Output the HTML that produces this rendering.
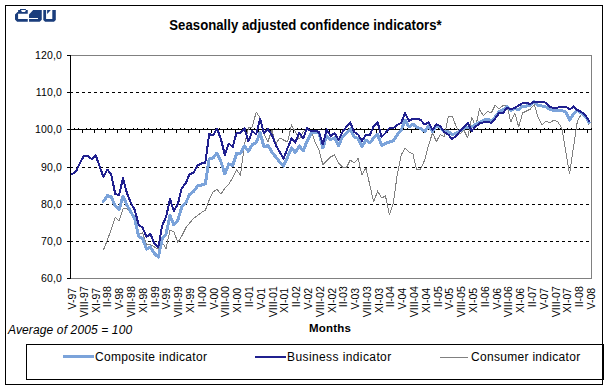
<!DOCTYPE html>
<html><head><meta charset="utf-8"><style>
html,body{margin:0;padding:0;background:#fff;}
svg{display:block;}
text{font-family:"Liberation Sans",sans-serif;}
</style></head><body>
<svg width="609" height="390" viewBox="0 0 609 390">
<rect x="0" y="0" width="609" height="390" fill="#fff"/>
<rect x="5.5" y="5.5" width="597" height="379" fill="none" stroke="#000" stroke-width="1"/>
<g fill="#1a3d7c">
<path d="M20,8.9 L25.9,8.9 L25.9,9.9 L27.75,9.9 L27.75,13.8 L18.1,13.8 L18.1,18.9 L27.75,18.9 L27.75,21.75 L17.1,21.75 L15,19.6 L15,14.5 L17.5,11.9 L18.1,11.9 L18.1,9.9 L20,9.9 Z M21.2,9.9 L21.2,10.9 L22.2,11.9 L24.7,11.9 L25.7,10.9 L25.7,9.9 Z" fill-rule="evenodd"/>
<path d="M33.15,9.9 L41.75,9.9 L41.75,19.7 L39.7,21.75 L29.05,21.75 L29.05,18.9 L38,18.9 L38,18.05 L29.05,18.05 L29.05,14.6 Z"/>
<path d="M43.3,9.9 L46.07,9.9 L46.07,18.9 L52.3,18.9 L52.3,9.9 L55.8,9.9 L55.8,20 L54,21.75 L45.1,21.75 L43.3,20 Z"/>
<path d="M47.1,9.9 L50.9,9.9 L47.1,14 Z"/>
</g>
<text transform="translate(169.3,30) scale(0.94,1)" x="0" y="0" font-size="14" letter-spacing="0.03" font-weight="bold">Seasonally adjusted confidence indicators*</text>
<g shape-rendering="crispEdges">
<line x1="71" y1="55.5" x2="591" y2="55.5" stroke="#808080"/>
<line x1="591.5" y1="55" x2="591.5" y2="279" stroke="#808080"/>
<line x1="71" y1="278.5" x2="591" y2="278.5" stroke="#808080"/>
<line x1="70" y1="92.5" x2="589" y2="92.5" stroke="#000" stroke-width="1" stroke-dasharray="3 3"/><line x1="70" y1="167.5" x2="589" y2="167.5" stroke="#000" stroke-width="1" stroke-dasharray="3 3"/><line x1="70" y1="204.5" x2="589" y2="204.5" stroke="#000" stroke-width="1" stroke-dasharray="3 3"/><line x1="70" y1="241.5" x2="589" y2="241.5" stroke="#000" stroke-width="1" stroke-dasharray="3 3"/>
</g>
<g shape-rendering="crispEdges" fill="#000">
<rect x="70" y="55" width="1" height="224"/>
<rect x="67" y="129" width="525" height="1"/>
<rect x="74" y="128" width="1" height="2"/><rect x="78" y="128" width="1" height="2"/><rect x="82" y="129" width="1" height="4"/><rect x="86" y="128" width="1" height="2"/><rect x="90" y="128" width="1" height="2"/><rect x="94" y="129" width="1" height="4"/><rect x="97" y="128" width="1" height="2"/><rect x="101" y="128" width="1" height="2"/><rect x="105" y="129" width="1" height="4"/><rect x="109" y="128" width="1" height="2"/><rect x="113" y="128" width="1" height="2"/><rect x="117" y="129" width="1" height="4"/><rect x="121" y="128" width="1" height="2"/><rect x="125" y="128" width="1" height="2"/><rect x="129" y="129" width="1" height="4"/><rect x="133" y="128" width="1" height="2"/><rect x="137" y="128" width="1" height="2"/><rect x="141" y="129" width="1" height="4"/><rect x="144" y="128" width="1" height="2"/><rect x="148" y="128" width="1" height="2"/><rect x="152" y="129" width="1" height="4"/><rect x="156" y="128" width="1" height="2"/><rect x="160" y="128" width="1" height="2"/><rect x="164" y="129" width="1" height="4"/><rect x="168" y="128" width="1" height="2"/><rect x="172" y="128" width="1" height="2"/><rect x="176" y="129" width="1" height="4"/><rect x="180" y="128" width="1" height="2"/><rect x="184" y="128" width="1" height="2"/><rect x="188" y="129" width="1" height="4"/><rect x="191" y="128" width="1" height="2"/><rect x="195" y="128" width="1" height="2"/><rect x="199" y="129" width="1" height="4"/><rect x="203" y="128" width="1" height="2"/><rect x="207" y="128" width="1" height="2"/><rect x="211" y="129" width="1" height="4"/><rect x="215" y="128" width="1" height="2"/><rect x="219" y="128" width="1" height="2"/><rect x="223" y="129" width="1" height="4"/><rect x="227" y="128" width="1" height="2"/><rect x="231" y="128" width="1" height="2"/><rect x="235" y="129" width="1" height="4"/><rect x="238" y="128" width="1" height="2"/><rect x="242" y="128" width="1" height="2"/><rect x="246" y="129" width="1" height="4"/><rect x="250" y="128" width="1" height="2"/><rect x="254" y="128" width="1" height="2"/><rect x="258" y="129" width="1" height="4"/><rect x="262" y="128" width="1" height="2"/><rect x="266" y="128" width="1" height="2"/><rect x="270" y="129" width="1" height="4"/><rect x="274" y="128" width="1" height="2"/><rect x="278" y="128" width="1" height="2"/><rect x="282" y="129" width="1" height="4"/><rect x="285" y="128" width="1" height="2"/><rect x="289" y="128" width="1" height="2"/><rect x="293" y="129" width="1" height="4"/><rect x="297" y="128" width="1" height="2"/><rect x="301" y="128" width="1" height="2"/><rect x="305" y="129" width="1" height="4"/><rect x="309" y="128" width="1" height="2"/><rect x="313" y="128" width="1" height="2"/><rect x="317" y="129" width="1" height="4"/><rect x="321" y="128" width="1" height="2"/><rect x="325" y="128" width="1" height="2"/><rect x="329" y="129" width="1" height="4"/><rect x="332" y="128" width="1" height="2"/><rect x="336" y="128" width="1" height="2"/><rect x="340" y="129" width="1" height="4"/><rect x="344" y="128" width="1" height="2"/><rect x="348" y="128" width="1" height="2"/><rect x="352" y="129" width="1" height="4"/><rect x="356" y="128" width="1" height="2"/><rect x="360" y="128" width="1" height="2"/><rect x="364" y="129" width="1" height="4"/><rect x="368" y="128" width="1" height="2"/><rect x="372" y="128" width="1" height="2"/><rect x="376" y="129" width="1" height="4"/><rect x="379" y="128" width="1" height="2"/><rect x="383" y="128" width="1" height="2"/><rect x="387" y="129" width="1" height="4"/><rect x="391" y="128" width="1" height="2"/><rect x="395" y="128" width="1" height="2"/><rect x="399" y="129" width="1" height="4"/><rect x="403" y="128" width="1" height="2"/><rect x="407" y="128" width="1" height="2"/><rect x="411" y="129" width="1" height="4"/><rect x="415" y="128" width="1" height="2"/><rect x="419" y="128" width="1" height="2"/><rect x="423" y="129" width="1" height="4"/><rect x="426" y="128" width="1" height="2"/><rect x="430" y="128" width="1" height="2"/><rect x="434" y="129" width="1" height="4"/><rect x="438" y="128" width="1" height="2"/><rect x="442" y="128" width="1" height="2"/><rect x="446" y="129" width="1" height="4"/><rect x="450" y="128" width="1" height="2"/><rect x="454" y="128" width="1" height="2"/><rect x="458" y="129" width="1" height="4"/><rect x="462" y="128" width="1" height="2"/><rect x="466" y="128" width="1" height="2"/><rect x="470" y="129" width="1" height="4"/><rect x="473" y="128" width="1" height="2"/><rect x="477" y="128" width="1" height="2"/><rect x="481" y="129" width="1" height="4"/><rect x="485" y="128" width="1" height="2"/><rect x="489" y="128" width="1" height="2"/><rect x="493" y="129" width="1" height="4"/><rect x="497" y="128" width="1" height="2"/><rect x="501" y="128" width="1" height="2"/><rect x="505" y="129" width="1" height="4"/><rect x="509" y="128" width="1" height="2"/><rect x="513" y="128" width="1" height="2"/><rect x="517" y="129" width="1" height="4"/><rect x="520" y="128" width="1" height="2"/><rect x="524" y="128" width="1" height="2"/><rect x="528" y="129" width="1" height="4"/><rect x="532" y="128" width="1" height="2"/><rect x="536" y="128" width="1" height="2"/><rect x="540" y="129" width="1" height="4"/><rect x="544" y="128" width="1" height="2"/><rect x="548" y="128" width="1" height="2"/><rect x="552" y="129" width="1" height="4"/><rect x="556" y="128" width="1" height="2"/><rect x="560" y="128" width="1" height="2"/><rect x="564" y="129" width="1" height="4"/><rect x="567" y="128" width="1" height="2"/><rect x="571" y="128" width="1" height="2"/><rect x="575" y="129" width="1" height="4"/><rect x="579" y="128" width="1" height="2"/><rect x="583" y="128" width="1" height="2"/><rect x="587" y="129" width="1" height="4"/><rect x="591" y="128" width="1" height="2"/>
<rect x="67" y="55" width="4" height="1"/><rect x="67" y="92" width="4" height="1"/><rect x="67" y="129" width="4" height="1"/><rect x="67" y="167" width="4" height="1"/><rect x="67" y="204" width="4" height="1"/><rect x="67" y="241" width="4" height="1"/><rect x="67" y="278" width="4" height="1"/>
</g>
<g font-size="10.5" letter-spacing="0.15" fill="#000">
<text x="62" y="59" text-anchor="end">120,0</text>
<text x="62" y="96" text-anchor="end">110,0</text>
<text x="62" y="133" text-anchor="end">100,0</text>
<text x="62" y="171" text-anchor="end">90,0</text>
<text x="62" y="208" text-anchor="end">80,0</text>
<text x="62" y="245" text-anchor="end">70,0</text>
<text x="62" y="282" text-anchor="end">60,0</text>

</g>
<g font-size="10.5" fill="#000">
<text transform="translate(76.06,287.8) rotate(-90)" text-anchor="end">V-97</text>
<text transform="translate(87.85,286.2) rotate(-90)" text-anchor="end">VIII-97</text>
<text transform="translate(99.65,287.8) rotate(-90)" text-anchor="end">XI-97</text>
<text transform="translate(111.44,286.2) rotate(-90)" text-anchor="end">II-98</text>
<text transform="translate(123.23,287.8) rotate(-90)" text-anchor="end">V-98</text>
<text transform="translate(135.03,286.2) rotate(-90)" text-anchor="end">VIII-98</text>
<text transform="translate(146.82,287.8) rotate(-90)" text-anchor="end">XI-98</text>
<text transform="translate(158.61,286.2) rotate(-90)" text-anchor="end">II-99</text>
<text transform="translate(170.40,287.8) rotate(-90)" text-anchor="end">V-99</text>
<text transform="translate(182.20,286.2) rotate(-90)" text-anchor="end">VIII-99</text>
<text transform="translate(193.99,287.8) rotate(-90)" text-anchor="end">XI-99</text>
<text transform="translate(205.78,286.2) rotate(-90)" text-anchor="end">II-00</text>
<text transform="translate(217.58,287.8) rotate(-90)" text-anchor="end">V-00</text>
<text transform="translate(229.37,286.2) rotate(-90)" text-anchor="end">VIII-00</text>
<text transform="translate(241.16,287.8) rotate(-90)" text-anchor="end">XI-00</text>
<text transform="translate(252.96,286.2) rotate(-90)" text-anchor="end">II-01</text>
<text transform="translate(264.75,287.8) rotate(-90)" text-anchor="end">V-01</text>
<text transform="translate(276.54,286.2) rotate(-90)" text-anchor="end">VIII-01</text>
<text transform="translate(288.33,287.8) rotate(-90)" text-anchor="end">XI-01</text>
<text transform="translate(300.13,286.2) rotate(-90)" text-anchor="end">II-02</text>
<text transform="translate(311.92,287.8) rotate(-90)" text-anchor="end">V-02</text>
<text transform="translate(323.71,286.2) rotate(-90)" text-anchor="end">VIII-02</text>
<text transform="translate(335.51,287.8) rotate(-90)" text-anchor="end">XI-02</text>
<text transform="translate(347.30,286.2) rotate(-90)" text-anchor="end">II-03</text>
<text transform="translate(359.09,287.8) rotate(-90)" text-anchor="end">V-03</text>
<text transform="translate(370.88,286.2) rotate(-90)" text-anchor="end">VIII-03</text>
<text transform="translate(382.68,287.8) rotate(-90)" text-anchor="end">XI-03</text>
<text transform="translate(394.47,286.2) rotate(-90)" text-anchor="end">II-04</text>
<text transform="translate(406.26,287.8) rotate(-90)" text-anchor="end">V-04</text>
<text transform="translate(418.06,286.2) rotate(-90)" text-anchor="end">VIII-04</text>
<text transform="translate(429.85,287.8) rotate(-90)" text-anchor="end">XI-04</text>
<text transform="translate(441.64,286.2) rotate(-90)" text-anchor="end">II-05</text>
<text transform="translate(453.44,287.8) rotate(-90)" text-anchor="end">V-05</text>
<text transform="translate(465.23,286.2) rotate(-90)" text-anchor="end">VIII-05</text>
<text transform="translate(477.02,287.8) rotate(-90)" text-anchor="end">XI-05</text>
<text transform="translate(488.81,286.2) rotate(-90)" text-anchor="end">II-06</text>
<text transform="translate(500.61,287.8) rotate(-90)" text-anchor="end">V-06</text>
<text transform="translate(512.40,286.2) rotate(-90)" text-anchor="end">VIII-06</text>
<text transform="translate(524.19,287.8) rotate(-90)" text-anchor="end">XI-06</text>
<text transform="translate(535.99,286.2) rotate(-90)" text-anchor="end">II-07</text>
<text transform="translate(547.78,287.8) rotate(-90)" text-anchor="end">V-07</text>
<text transform="translate(559.57,286.2) rotate(-90)" text-anchor="end">VIII-07</text>
<text transform="translate(571.37,287.8) rotate(-90)" text-anchor="end">XI-07</text>
<text transform="translate(583.16,286.2) rotate(-90)" text-anchor="end">II-08</text>
<text transform="translate(594.95,287.8) rotate(-90)" text-anchor="end">V-08</text>

</g>
<g fill="none" stroke-linejoin="round" stroke-linecap="round" shape-rendering="crispEdges">
<path d="M103.4,250.0 L107.4,240.0 L111.3,229.0 L115.2,217.0 L119.1,221.0 L123.0,209.0 L126.9,208.0 L130.9,213.0 L134.8,221.0 L138.7,235.0 L142.6,232.5 L146.5,245.0 L150.4,244.5 L154.4,247.0 L158.3,249.0 L162.2,242.5 L166.1,248.5 L170.0,230.0 L173.9,232.0 L177.9,242.5 L181.8,236.0 L185.7,228.0 L189.6,223.0 L193.5,218.5 L197.5,215.5 L201.4,212.5 L205.3,210.5 L209.2,200.0 L213.1,192.0 L217.0,189.5 L221.0,194.0 L224.9,188.0 L228.8,184.0 L232.7,178.0 L236.6,170.0 L240.5,175.0 L244.5,144.0 L248.4,128.0 L252.3,127.0 L256.2,112.0 L260.1,118.0 L264.0,134.0 L268.0,141.5 L271.9,130.0 L275.8,144.0 L279.7,138.0 L283.6,140.0 L287.6,142.0 L291.5,125.0 L295.4,132.0 L299.3,139.0 L303.2,131.5 L307.1,128.5 L311.1,131.0 L315.0,142.0 L318.9,150.0 L322.8,164.5 L326.7,161.0 L330.6,157.0 L334.6,155.0 L338.5,163.0 L342.4,167.0 L346.3,168.0 L350.2,160.0 L354.1,163.0 L358.1,158.5 L362.0,175.0 L365.9,168.0 L369.8,185.0 L373.7,202.0 L377.6,191.0 L381.6,198.0 L385.5,196.0 L389.4,215.0 L393.3,203.0 L397.2,175.0 L401.2,155.0 L405.1,148.0 L409.0,152.0 L412.9,154.0 L416.8,170.0 L420.7,169.0 L424.7,160.0 L428.6,145.0 L432.5,133.0 L436.4,141.5 L440.3,134.5 L444.2,137.0 L448.2,117.0 L452.1,116.0 L456.0,126.0 L459.9,134.0 L463.8,130.0 L467.7,138.0 L471.7,117.0 L475.6,127.0 L479.5,109.0 L483.4,116.0 L487.3,111.5 L491.3,113.0 L495.2,105.0 L499.1,109.0 L503.0,105.5 L506.9,105.0 L510.8,122.0 L514.8,113.0 L518.7,127.0 L522.6,113.0 L526.5,111.0 L530.4,109.0 L534.3,104.5 L538.3,118.0 L542.2,125.0 L546.1,121.0 L550.0,123.0 L553.9,120.0 L557.8,122.0 L561.8,128.0 L565.7,151.0 L569.6,174.0 L573.5,147.0 L577.4,121.0 L581.3,114.5 L585.3,117.0 L589.2,125.0" stroke="#808080" stroke-width="1"/>
<path d="M103.4,201.5 L107.4,195.5 L111.3,197.0 L115.2,206.0 L119.1,209.5 L123.0,196.0 L126.9,205.0 L130.9,212.0 L134.8,219.0 L138.7,236.5 L142.6,238.5 L146.5,249.0 L150.4,247.0 L154.4,253.5 L158.3,257.0 L162.2,239.0 L166.1,234.0 L170.0,215.5 L173.9,225.0 L177.9,220.0 L181.8,207.0 L185.7,203.0 L189.6,194.5 L193.5,191.5 L197.5,186.0 L201.4,185.0 L205.3,184.0 L209.2,159.0 L213.1,158.0 L217.0,153.0 L221.0,162.0 L224.9,174.0 L228.8,164.0 L232.7,165.5 L236.6,153.5 L240.5,153.0 L244.5,146.0 L248.4,151.5 L252.3,144.5 L256.2,142.5 L260.1,132.5 L264.0,147.0 L268.0,145.5 L271.9,152.0 L275.8,157.0 L279.7,162.0 L283.6,166.0 L287.6,157.0 L291.5,148.0 L295.4,152.5 L299.3,146.0 L303.2,151.0 L307.1,141.0 L311.1,133.0 L315.0,132.5 L318.9,133.0 L322.8,148.0 L326.7,136.0 L330.6,139.5 L334.6,138.0 L338.5,145.5 L342.4,137.0 L346.3,133.0 L350.2,129.0 L354.1,137.0 L358.1,138.5 L362.0,146.5 L365.9,140.0 L369.8,143.0 L373.7,138.0 L377.6,134.5 L381.6,145.5 L385.5,143.5 L389.4,142.0 L393.3,141.0 L397.2,135.0 L401.2,130.0 L405.1,120.0 L409.0,127.0 L412.9,124.0 L416.8,127.5 L420.7,128.5 L424.7,131.5 L428.6,126.0 L432.5,131.5 L436.4,126.0 L440.3,127.5 L444.2,131.5 L448.2,131.5 L452.1,134.5 L456.0,133.5 L459.9,131.0 L463.8,128.5 L467.7,127.0 L471.7,127.0 L475.6,124.5 L479.5,122.5 L483.4,120.5 L487.3,119.0 L491.3,121.0 L495.2,117.0 L499.1,111.5 L503.0,110.0 L506.9,106.5 L510.8,110.5 L514.8,108.5 L518.7,110.0 L522.6,106.0 L526.5,106.0 L530.4,105.0 L534.3,101.5 L538.3,105.5 L542.2,106.0 L546.1,107.0 L550.0,109.5 L553.9,110.5 L557.8,110.0 L561.8,110.5 L565.7,112.0 L569.6,120.0 L573.5,114.0 L577.4,110.5 L581.3,113.0 L585.3,116.0 L589.2,122.5" stroke="#7ba3da" stroke-width="3"/>
<path d="M72.1,174.0 L76.0,171.5 L79.9,163.0 L83.9,156.0 L87.8,156.0 L91.7,159.0 L95.6,155.0 L99.5,166.0 L103.4,177.0 L107.4,169.6 L111.3,174.5 L115.2,194.0 L119.1,195.0 L123.0,178.0 L126.9,193.0 L130.9,203.0 L134.8,210.0 L138.7,225.0 L142.6,227.5 L146.5,237.0 L150.4,234.0 L154.4,243.5 L158.3,247.5 L162.2,225.5 L166.1,217.0 L170.0,199.0 L173.9,211.0 L177.9,204.0 L181.8,188.0 L185.7,183.5 L189.6,174.0 L193.5,173.0 L197.5,165.5 L201.4,163.5 L205.3,163.0 L209.2,134.0 L213.1,135.5 L217.0,128.5 L221.0,139.5 L224.9,155.0 L228.8,143.5 L232.7,147.0 L236.6,132.5 L240.5,132.5 L244.5,128.5 L248.4,141.5 L252.3,131.0 L256.2,134.5 L260.1,118.5 L264.0,133.5 L268.0,129.0 L271.9,135.0 L275.8,145.0 L279.7,152.0 L283.6,158.5 L287.6,148.0 L291.5,138.5 L295.4,142.5 L299.3,132.5 L303.2,138.5 L307.1,128.0 L311.1,131.5 L315.0,130.5 L318.9,132.0 L322.8,144.5 L326.7,129.5 L330.6,136.0 L334.6,133.0 L338.5,140.0 L342.4,132.0 L346.3,127.0 L350.2,122.5 L354.1,132.0 L358.1,134.5 L362.0,141.0 L365.9,135.0 L369.8,135.0 L373.7,126.0 L377.6,122.0 L381.6,137.0 L385.5,133.0 L389.4,128.0 L393.3,128.0 L397.2,125.0 L401.2,123.0 L405.1,113.0 L409.0,121.0 L412.9,118.5 L416.8,118.5 L420.7,120.0 L424.7,124.5 L428.6,122.5 L432.5,130.0 L436.4,124.5 L440.3,126.0 L444.2,132.0 L448.2,134.5 L452.1,139.0 L456.0,136.0 L459.9,131.5 L463.8,127.0 L467.7,123.0 L471.7,131.0 L475.6,126.5 L479.5,123.5 L483.4,122.5 L487.3,121.5 L491.3,123.0 L495.2,118.5 L499.1,113.0 L503.0,113.0 L506.9,108.0 L510.8,109.0 L514.8,108.0 L518.7,105.5 L522.6,103.0 L526.5,103.0 L530.4,104.0 L534.3,101.5 L538.3,101.5 L542.2,101.5 L546.1,103.0 L550.0,107.0 L553.9,108.0 L557.8,107.5 L561.8,107.0 L565.7,106.5 L569.6,109.5 L573.5,106.5 L577.4,110.0 L581.3,112.0 L585.3,115.0 L589.2,121.0" stroke="#20208f" stroke-width="2"/>
</g>
<text x="8" y="334" font-size="12" letter-spacing="0.13" font-style="italic">Average of 2005 = 100</text>
<text x="309" y="332" font-size="11.5" letter-spacing="0.2" font-weight="bold">Months</text>
<rect x="26.5" y="344.5" width="576" height="35" fill="#fff" stroke="#000" stroke-width="1"/>
<rect x="603" y="344" width="1" height="36" fill="#000"/>
<rect x="63" y="355" width="31" height="3" fill="#7ba3da"/>
<text x="95" y="361" font-size="12" letter-spacing="0.33">Composite indicator</text>
<rect x="255" y="356" width="31" height="2" fill="#20208f"/>
<text x="287" y="361" font-size="12" letter-spacing="0.4">Business indicator</text>
<rect x="440" y="357" width="28" height="1" fill="#808080"/>
<text x="471" y="361" font-size="12" letter-spacing="0.3">Consumer indicator</text>
</svg>
</body></html>
